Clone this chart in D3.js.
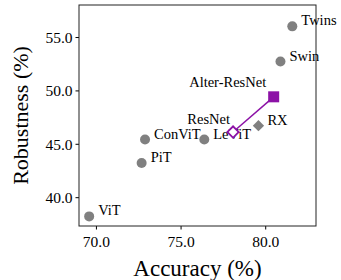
<!DOCTYPE html>
<html>
<head>
<meta charset="utf-8">
<script src="https://d3js.org/d3.v7.min.js"></script>
<style>
  body { margin: 0; background: #fff; }
  text { font-family: "Liberation Serif", "DejaVu Serif", serif; }
</style>
</head>
<body>
<script>
// models and their (accuracy, robustness) values
var names = ['ViT', 'PiT', 'ConViT', 'LeViT', 'Swin', 'Twins'];
var accuracy = [69.6, 72.7, 72.9, 76.4, 80.9, 81.6];
var robustness = [38.2, 43.2, 45.4, 45.4, 52.7, 56.0];

var rxName = 'RX', rxAcc = 79.6, rxRob = 46.7;
var resName = 'ResNet', resAcc = 78.1, resRob = 46.1;
var altName = 'Alter-ResNet', altAcc = 80.5, altRob = 49.4;

var xTicks = [70, 75, 80];
var yTicks = [40, 45, 50, 55];

var width = 341, height = 280;
var margin = {left: 79, right: 25, top: 5, bottom: 54};

var svg = d3.select('body').append('svg').attr('width', width).attr('height', height);

var x = d3.scaleLinear().domain([69, 83]).range([margin.left, width - margin.right]);
var y = d3.scaleLinear().domain([37.3, 58]).range([height - margin.bottom, margin.top]);

var purple = '#8c12a6', gray = '#808080';

svg.append('g')
  .attr('transform', 'translate(0,' + (height - margin.bottom) + ')')
  .call(d3.axisBottom(x).tickValues(xTicks).tickFormat(d3.format('.1f')).tickSizeOuter(0).tickSize(3.5))
  .call(function(g){ g.select('.domain').remove(); })
  .selectAll('text').attr('font-size', 15.5).attr('dy', '0.95em');

svg.append('g')
  .attr('transform', 'translate(' + margin.left + ',0)')
  .call(d3.axisLeft(y).tickValues(yTicks).tickFormat(d3.format('.1f')).tickSizeOuter(0).tickSize(3.5))
  .call(function(g){ g.select('.domain').remove(); })
  .selectAll('text').attr('font-size', 15.5).attr('dy', '0.35em');

svg.append('rect')
  .attr('x', margin.left).attr('y', margin.top)
  .attr('width', width - margin.left - margin.right)
  .attr('height', height - margin.top - margin.bottom)
  .attr('fill', 'none').attr('stroke', '#222').attr('stroke-width', 1);

// gray circles
svg.selectAll('circle.m')
  .data(names)
  .enter().append('circle')
  .attr('class', 'm')
  .attr('cx', function(d, i){ return x(accuracy[i]); })
  .attr('cy', function(d, i){ return y(robustness[i]); })
  .attr('r', 5)
  .attr('fill', gray);

svg.selectAll('text.lbl')
  .data(names)
  .enter().append('text')
  .attr('class', 'lbl')
  .attr('x', function(d, i){ return x(accuracy[i]) + 9; })
  .attr('y', function(d, i){ return y(robustness[i]) - 1; })
  .attr('font-size', 14.5)
  .text(function(d){ return d; });

// RX diamond
svg.append('path')
  .attr('d', d3.symbol().type(d3.symbolSquare).size(64)())
  .attr('transform', 'translate(' + x(rxAcc) + ',' + y(rxRob) + ') rotate(45)')
  .attr('fill', gray);
svg.append('text')
  .attr('x', x(rxAcc) + 9).attr('y', y(rxRob) - 1)
  .attr('font-size', 14.5).text(rxName);

// ResNet -> Alter-ResNet
svg.append('line')
  .attr('x1', x(resAcc)).attr('y1', y(resRob))
  .attr('x2', x(altAcc)).attr('y2', y(altRob))
  .attr('stroke', purple).attr('stroke-width', 1.5);

svg.append('path')
  .attr('d', d3.symbol().type(d3.symbolSquare).size(64)())
  .attr('transform', 'translate(' + x(resAcc) + ',' + y(resRob) + ') rotate(45)')
  .attr('fill', '#fff').attr('stroke', purple).attr('stroke-width', 1.8);

svg.append('rect')
  .attr('x', x(altAcc) - 5.5).attr('y', y(altRob) - 5.5)
  .attr('width', 11).attr('height', 11)
  .attr('fill', purple);

svg.append('text')
  .attr('x', x(resAcc) - 3).attr('y', y(resRob) - 8)
  .attr('text-anchor', 'end').attr('font-size', 14.5).text(resName);

svg.append('text')
  .attr('x', x(altAcc) - 46).attr('y', y(altRob) - 10)
  .attr('text-anchor', 'middle').attr('font-size', 14.5).text(altName);

// axis titles
svg.append('text')
  .attr('x', (margin.left + width - margin.right) / 2).attr('y', 276)
  .attr('text-anchor', 'middle').attr('font-size', 23).text('Accuracy (%)');

svg.append('text')
  .attr('transform', 'translate(28,' + ((margin.top + height - margin.bottom) / 2) + ') rotate(-90)')
  .attr('text-anchor', 'middle').attr('font-size', 22).text('Robustness (%)');
</script>
</body>
</html>
